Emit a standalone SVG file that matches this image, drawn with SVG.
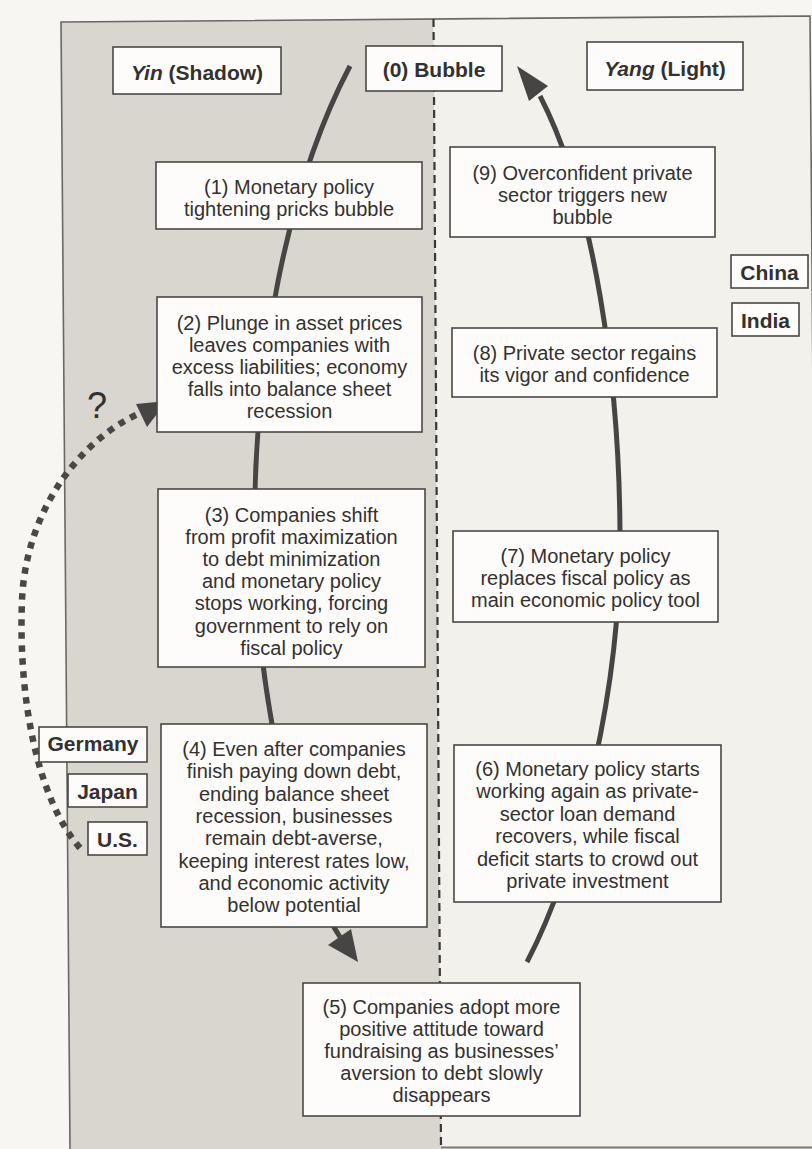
<svg xmlns="http://www.w3.org/2000/svg" width="812" height="1149" viewBox="0 0 812 1149">
<style>
.box{fill:#fdfcfa;stroke:#4a4845;stroke-width:1.6}
.t{font-family:"Liberation Sans",Arial,sans-serif;font-size:20px;fill:#333130;text-anchor:middle}
.tb{font-weight:bold;font-size:21px}
.arc{fill:none;stroke:#474543;stroke-width:5}
.head{fill:#474543}
.dots{fill:none;stroke:#4a4845;stroke-width:6.5;stroke-dasharray:6.5 6.5}
.frame{stroke:#6a6864;stroke-width:1.6;fill:none}
</style>
<rect x="0" y="0" width="812" height="1149" fill="#f8f6f2"/>
<polygon points="61,22 433.5,19 441,1149 70,1149" fill="#d9d5cf"/>
<polygon points="433.5,19 810,16 819,1149 441,1149" fill="#f3f1ec"/>
<path class="frame" d="M70,1149 L61,22 L810,16 L819,1149"/>
<line x1="441" y1="1147.5" x2="812" y2="1147.5" stroke="#7a7874" stroke-width="2"/>
<line x1="433.5" y1="19" x2="441" y2="1149" stroke="#3a3836" stroke-width="2.2" stroke-dasharray="8 5"/>
<g id="connectors">
<path class="arc" d="M350,66 C290,180 250,360 255,560 C258,680 290,860 340,937"/>
<polygon class="head" points="358,962 328,945 351,929"/>
<path class="arc" d="M527,962 C575,870 620,700 620,540 C620,380 594,200 540,96"/>
<polygon class="head" points="517,66 548,86 529,101"/>
<path class="dots" d="M80,848 C38,800 18,700 22,600 C26,510 80,440 140,413"/>
<polygon class="head" points="167,401 136,404 147,427"/>
</g>
<g id="question"><text class="t" x="97" y="418" style="font-size:36px">?</text></g>
<g id="yin"><rect class="box" x="113" y="47" width="168" height="47"/><text class="t tb" x="197" y="80"><tspan font-style="italic">Yin</tspan> (Shadow)</text></g>
<g id="bubble"><rect class="box" x="366" y="46" width="136" height="45"/><text class="t tb" x="434" y="76.5">(0) Bubble</text></g>
<g id="yang"><rect class="box" x="587" y="42" width="156" height="48"/><text class="t tb" x="665" y="75.5"><tspan font-style="italic">Yang</tspan> (Light)</text></g>
<g id="n1"><rect class="box" x="156" y="162" width="266" height="67"/><text class="t" x="289"><tspan x="289" y="194">(1) Monetary policy</tspan><tspan x="289" y="216">tightening pricks bubble</tspan></text></g>
<g id="n2"><rect class="box" x="157" y="297" width="265" height="135"/><text class="t"><tspan x="289.5" y="330">(2) Plunge in asset prices</tspan><tspan x="289.5" y="352">leaves companies with</tspan><tspan x="289.5" y="374">excess liabilities; economy</tspan><tspan x="289.5" y="396">falls into balance sheet</tspan><tspan x="289.5" y="418">recession</tspan></text></g>
<g id="n3"><rect class="box" x="158" y="489" width="267" height="178"/><text class="t"><tspan x="291.5" y="521.5">(3) Companies shift</tspan><tspan x="291.5" y="543.7">from profit maximization</tspan><tspan x="291.5" y="565.9">to debt minimization</tspan><tspan x="291.5" y="588.1">and monetary policy</tspan><tspan x="291.5" y="610.3">stops working, forcing</tspan><tspan x="291.5" y="632.5">government to rely on</tspan><tspan x="291.5" y="654.7">fiscal policy</tspan></text></g>
<g id="n4"><rect class="box" x="161" y="724" width="266" height="203"/><text class="t"><tspan x="294" y="756">(4) Even after companies</tspan><tspan x="294" y="778.3">finish paying down debt,</tspan><tspan x="294" y="800.6">ending balance sheet</tspan><tspan x="294" y="822.9">recession, businesses</tspan><tspan x="294" y="845.2">remain debt-averse,</tspan><tspan x="294" y="867.5">keeping interest rates low,</tspan><tspan x="294" y="889.8">and economic activity</tspan><tspan x="294" y="912.1">below potential</tspan></text></g>
<g id="n5"><rect class="box" x="303" y="983" width="277" height="133"/><text class="t"><tspan x="441.5" y="1013.5">(5) Companies adopt more</tspan><tspan x="441.5" y="1035.7">positive attitude toward</tspan><tspan x="441.5" y="1057.9">fundraising as businesses’</tspan><tspan x="441.5" y="1080.1">aversion to debt slowly</tspan><tspan x="441.5" y="1102.3">disappears</tspan></text></g>
<g id="n6"><rect class="box" x="454" y="745" width="267" height="157"/><text class="t"><tspan x="587.5" y="776">(6) Monetary policy starts</tspan><tspan x="587.5" y="798.4">working again as private-</tspan><tspan x="587.5" y="820.8">sector loan demand</tspan><tspan x="587.5" y="843.2">recovers, while fiscal</tspan><tspan x="587.5" y="865.6">deficit starts to crowd out</tspan><tspan x="587.5" y="888">private investment</tspan></text></g>
<g id="n7"><rect class="box" x="453" y="531" width="265" height="91"/><text class="t"><tspan x="585.5" y="563">(7) Monetary policy</tspan><tspan x="585.5" y="585">replaces fiscal policy as</tspan><tspan x="585.5" y="607">main economic policy tool</tspan></text></g>
<g id="n8"><rect class="box" x="452" y="328" width="265" height="69"/><text class="t"><tspan x="584.5" y="360">(8) Private sector regains</tspan><tspan x="584.5" y="382">its vigor and confidence</tspan></text></g>
<g id="n9"><rect class="box" x="450" y="147" width="265" height="90"/><text class="t"><tspan x="582.5" y="180">(9) Overconfident private</tspan><tspan x="582.5" y="202">sector triggers new</tspan><tspan x="582.5" y="224">bubble</tspan></text></g>
<g id="china"><rect class="box" x="731" y="255" width="77" height="33"/><text class="t tb" x="769.5" y="280">China</text></g>
<g id="india"><rect class="box" x="732" y="303" width="67" height="33"/><text class="t tb" x="765.5" y="328">India</text></g>
<g id="germany"><rect class="box" x="39" y="727" width="108" height="35"/><text class="t tb" x="93" y="751">Germany</text></g>
<g id="japan"><rect class="box" x="68" y="774" width="79" height="33"/><text class="t tb" x="107.5" y="799">Japan</text></g>
<g id="us"><rect class="box" x="88" y="822" width="59" height="33"/><text class="t tb" x="117.5" y="847">U.S.</text></g>
</svg>
